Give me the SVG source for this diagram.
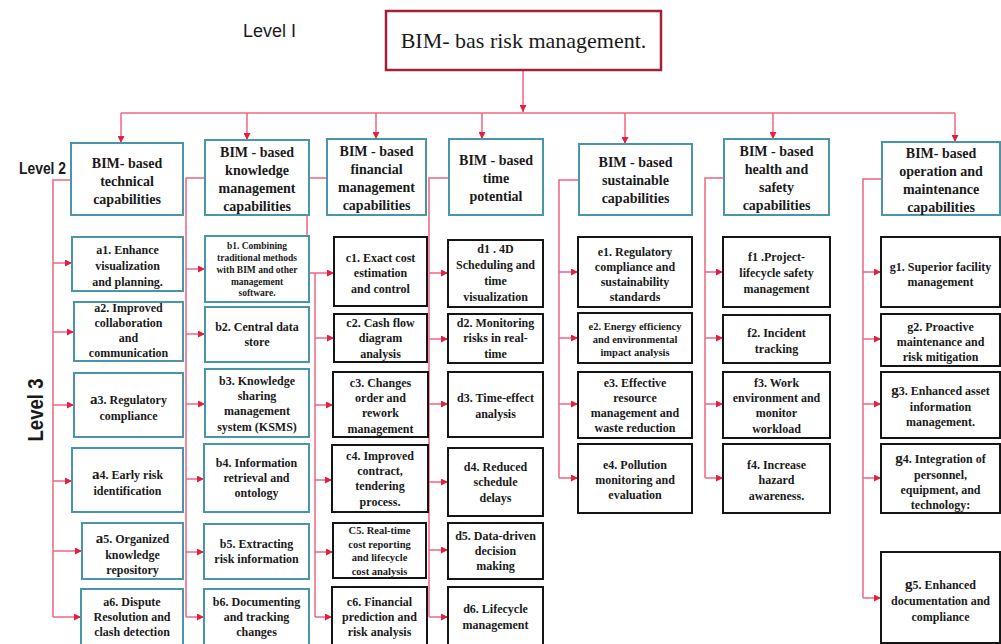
<svg xmlns="http://www.w3.org/2000/svg" width="1001" height="644" viewBox="0 0 1001 644">
<style>
.top{fill:#fff;stroke:#a3203b;stroke-width:2.5}
.l2{fill:#fff;stroke:#4797a9;stroke-width:2}
.tb{fill:#fff;stroke:#4797a9;stroke-width:2}
.bb{fill:#fff;stroke:#151515;stroke-width:2}
text{font-family:"Liberation Serif","DejaVu Serif","Times New Roman",serif;fill:#1a1a1a;text-anchor:middle}
.t0{font-size:22px}
.t2{font-size:14px;font-weight:bold}
.t3{font-size:12px;font-weight:bold}
.ts{font-size:10.5px;font-weight:bold}
.tx{font-size:9.5px;font-weight:bold}
.lv{font-family:"Liberation Sans",Arial,sans-serif;text-anchor:start}
.big{font-size:15px}
.c{fill:none;stroke:#f06580;stroke-width:1.5}
.a{fill:none;stroke:#f06580;stroke-width:1.5;marker-end:url(#ar)}
</style>
<defs>
<marker id="ar" markerUnits="userSpaceOnUse" markerWidth="7" markerHeight="7" refX="7" refY="3.5" orient="auto">
<path d="M0,0 L7,3.5 L0,7 z" fill="#e2213f"/>
</marker>
</defs>
<rect width="1001" height="644" fill="#fff"/>

<g id="labels">
<text class="lv" x="243" y="37" font-size="18">Level I</text>
<text class="lv" x="19" y="174" font-size="16" font-weight="bold" textLength="47" lengthAdjust="spacingAndGlyphs">Level 2</text>
<text class="lv" transform="translate(43,410) rotate(-90)" x="0" y="0" font-size="22" font-weight="bold" textLength="63" lengthAdjust="spacingAndGlyphs" style="text-anchor:middle">Level 3</text>
</g>

<g id="connectors">
<path class="a" d="M523,70 V112"/>
<path class="c" d="M121,113 H955"/>
<path class="a" d="M121,113 V143"/>
<path class="a" d="M247,113 V140"/>
<path class="a" d="M376,113 V139"/>
<path class="a" d="M482,113 V139"/>
<path class="a" d="M625,113 V144"/>
<path class="a" d="M773,113 V139"/>
<path class="a" d="M955,113 V142"/>

<path class="c" d="M71,180 H53 V617"/>
<path class="a" d="M53,263 H72"/>
<path class="a" d="M53,332 H74"/>
<path class="a" d="M53,405 H74"/>
<path class="a" d="M53,481 H72"/>
<path class="a" d="M53,551 H82"/>
<path class="a" d="M53,617 H81"/>

<path class="c" d="M205,178 H186 V617"/>
<path class="a" d="M186,269 H205"/>
<path class="a" d="M186,334 H205"/>
<path class="a" d="M186,404 H205"/>
<path class="a" d="M186,479 H204"/>
<path class="a" d="M186,552 H204"/>
<path class="a" d="M186,617 H204"/>

<path class="c" d="M327,178 H307 V273"/>
<path class="a" d="M307,273 H334"/>
<path class="c" d="M315,273 V617"/>
<path class="a" d="M315,338 H334"/>
<path class="a" d="M315,405 H333"/>
<path class="a" d="M315,480 H332"/>
<path class="a" d="M315,552 H333"/>
<path class="a" d="M315,617 H332"/>

<path class="c" d="M449,178 H429 V617"/>
<path class="a" d="M429,273 H448"/>
<path class="a" d="M429,339 H448"/>
<path class="a" d="M429,404 H448"/>
<path class="a" d="M429,482 H448"/>
<path class="a" d="M429,550 H448"/>
<path class="a" d="M429,617 H448"/>

<path class="c" d="M579,180 H559 V478"/>
<path class="a" d="M559,272 H578"/>
<path class="a" d="M559,338 H578"/>
<path class="a" d="M559,404 H578"/>
<path class="a" d="M559,478 H578"/>

<path class="c" d="M724,178 H705 V478"/>
<path class="a" d="M705,272 H723"/>
<path class="a" d="M705,338 H723"/>
<path class="a" d="M705,404 H723"/>
<path class="a" d="M705,478 H723"/>

<path class="c" d="M882,179 H863 V598"/>
<path class="a" d="M863,272 H881"/>
<path class="a" d="M863,339 H881"/>
<path class="a" d="M863,404 H881"/>
<path class="a" d="M863,478 H881"/>
<path class="a" d="M863,598 H881"/>
</g>

<g id="root"><rect class="top" x="386" y="11" width="275" height="59"/><text class="t0" x="523.5" y="48">BIM- bas risk management.</text></g>

<g id="L2-technical"><rect class="l2" x="71" y="143" width="112" height="72"/>
<text class="t2" x="127" y="167.5">BIM- based</text><text class="t2" x="127" y="185.5">technical</text><text class="t2" x="127" y="203.5">capabilities</text></g>
<g id="L2-knowledge"><rect class="l2" x="205" y="140" width="104" height="75"/>
<text class="t2" x="257" y="156.5">BIM - based</text><text class="t2" x="257" y="174.5">knowledge</text><text class="t2" x="257" y="192.5">management</text><text class="t2" x="257" y="210.5">capabilities</text></g>
<g id="L2-financial"><rect class="l2" x="327" y="139" width="99" height="76"/>
<text class="t2" x="376.5" y="155.5">BIM - based</text><text class="t2" x="376.5" y="173.5">financial</text><text class="t2" x="376.5" y="191.5">management</text><text class="t2" x="376.5" y="209.5">capabilities</text></g>
<g id="L2-time"><rect class="l2" x="449" y="139" width="94" height="76"/>
<text class="t2" x="496" y="164.5">BIM - based</text><text class="t2" x="496" y="182.5">time</text><text class="t2" x="496" y="200.5">potential</text></g>
<g id="L2-sustainable"><rect class="l2" x="579" y="144" width="113" height="71"/>
<text class="t2" x="635.5" y="166.5">BIM - based</text><text class="t2" x="635.5" y="184.5">sustainable</text><text class="t2" x="635.5" y="202.5">capabilities</text></g>
<g id="L2-health"><rect class="l2" x="724" y="139" width="105" height="76"/>
<text class="t2" x="776.5" y="155.5">BIM - based</text><text class="t2" x="776.5" y="173.5">health and</text><text class="t2" x="776.5" y="191.5">safety</text><text class="t2" x="776.5" y="209.5">capabilities</text></g>
<g id="L2-operation"><rect class="l2" x="882" y="142" width="118" height="73"/>
<text class="t2" x="941" y="157.5">BIM- based</text><text class="t2" x="941" y="175.5">operation and</text><text class="t2" x="941" y="193.5">maintenance</text><text class="t2" x="941" y="211.5">capabilities</text></g>

<g id="a1"><rect class="tb" x="72" y="237" width="111" height="54"/>
<text class="t3" x="127.5" y="254">a1. Enhance</text><text class="t3" x="127.5" y="270">visualization</text><text class="t3" x="127.5" y="286">and planning.</text></g>
<g id="a2"><rect class="tb" x="74" y="302" width="109" height="59"/>
<text class="t3" x="128.5" y="312">a2. Improved</text><text class="t3" x="128.5" y="327">collaboration</text><text class="t3" x="128.5" y="342">and</text><text class="t3" x="128.5" y="357">communication</text></g>
<g id="a3"><rect class="tb" x="74" y="373" width="109" height="64"/>
<text class="t3" x="128.5" y="404"><tspan class="big">a</tspan>3. Regulatory</text><text class="t3" x="128.5" y="420">compliance</text></g>
<g id="a4"><rect class="tb" x="72" y="448" width="111" height="64"/>
<text class="t3" x="127.5" y="479"><tspan class="big">a</tspan>4. Early risk</text><text class="t3" x="127.5" y="495">identification</text></g>
<g id="a5"><rect class="tb" x="82" y="523" width="101" height="56"/>
<text class="t3" x="132.5" y="543"><tspan class="big">a</tspan>5. Organized</text><text class="t3" x="132.5" y="559">knowledge</text><text class="t3" x="132.5" y="574">repository</text></g>
<g id="a6"><rect class="tb" x="81" y="589" width="102" height="57"/>
<text class="t3" x="132" y="606">a6. Dispute</text><text class="t3" x="132" y="621">Resolution and</text><text class="t3" x="132" y="636">clash detection</text></g>

<g id="b1"><rect class="tb" x="205" y="236" width="104" height="66"/>
<text class="tx" x="257" y="248.5">b1. Combining</text><text class="tx" x="257" y="260.5">traditional methods</text><text class="tx" x="257" y="272.5">with  BIM and other</text><text class="tx" x="257" y="284.5">management</text><text class="tx" x="257" y="295.5">software.</text></g>
<g id="b2"><rect class="tb" x="205" y="307" width="104" height="55"/>
<text class="t3" x="257" y="331">b2. Central  data</text><text class="t3" x="257" y="346">store</text></g>
<g id="b3"><rect class="tb" x="205" y="369" width="104" height="68"/>
<text class="t3" x="257" y="385">b3. Knowledge</text><text class="t3" x="257" y="400">sharing</text><text class="t3" x="257" y="415">management</text><text class="t3" x="257" y="431">system (KSMS)</text></g>
<g id="b4"><rect class="tb" x="204" y="444" width="105" height="68"/>
<text class="t3" x="256.5" y="467">b4. Information</text><text class="t3" x="256.5" y="482">retrieval and</text><text class="t3" x="256.5" y="497">ontology</text></g>
<g id="b5"><rect class="tb" x="204" y="524" width="105" height="55"/>
<text class="t3" x="256.5" y="548">b5. Extracting</text><text class="t3" x="256.5" y="563">risk information</text></g>
<g id="b6"><rect class="tb" x="204" y="589" width="105" height="57"/>
<text class="t3" x="256.5" y="606">b6. Documenting</text><text class="t3" x="256.5" y="621">and tracking</text><text class="t3" x="256.5" y="636">changes</text></g>

<g id="c1"><rect class="bb" x="334" y="237" width="93" height="69"/>
<text class="t3" x="380.5" y="262">c1. Exact cost</text><text class="t3" x="380.5" y="277">estimation</text><text class="t3" x="380.5" y="293">and control</text></g>
<g id="c2"><rect class="bb" x="334" y="314" width="93" height="48"/>
<text class="t3" x="380.5" y="327">c2. Cash flow</text><text class="t3" x="380.5" y="342">diagram</text><text class="t3" x="380.5" y="358">analysis</text></g>
<g id="c3"><rect class="bb" x="333" y="372" width="95" height="65"/>
<text class="t3" x="380.5" y="387">c3. Changes</text><text class="t3" x="380.5" y="402">order and</text><text class="t3" x="380.5" y="417">rework</text><text class="t3" x="380.5" y="433">management</text></g>
<g id="c4"><rect class="bb" x="332" y="445" width="96" height="67"/>
<text class="t3" x="380" y="460">c4. Improved</text><text class="t3" x="380" y="475">contract,</text><text class="t3" x="380" y="490">tendering</text><text class="t3" x="380" y="506">process.</text></g>
<g id="c5"><rect class="bb" x="333" y="523" width="93" height="55"/>
<text class="ts" x="379.5" y="533.5">C5. Real-time</text><text class="ts" x="379.5" y="547.5">cost reporting</text><text class="ts" x="379.5" y="560.5">and lifecycle</text><text class="ts" x="379.5" y="574.5">cost analysis</text></g>
<g id="c6"><rect class="bb" x="332" y="587" width="95" height="59"/>
<text class="t3" x="379.5" y="606">c6. Financial</text><text class="t3" x="379.5" y="621">prediction and</text><text class="t3" x="379.5" y="636">risk analysis</text></g>

<g id="d1"><rect class="bb" x="448" y="240" width="95" height="67"/>
<text class="t3" x="495.5" y="253">d1 . 4D</text><text class="t3" x="495.5" y="269">Scheduling and</text><text class="t3" x="495.5" y="285">time</text><text class="t3" x="495.5" y="301">visualization</text></g>
<g id="d2"><rect class="bb" x="448" y="314" width="95" height="49"/>
<text class="t3" x="495.5" y="327">d2. Monitoring</text><text class="t3" x="495.5" y="342">risks in real-</text><text class="t3" x="495.5" y="358">time</text></g>
<g id="d3"><rect class="bb" x="448" y="372" width="95" height="65"/>
<text class="t3" x="495.5" y="402">d3. Time-effect</text><text class="t3" x="495.5" y="418">analysis</text></g>
<g id="d4"><rect class="bb" x="448" y="448" width="95" height="68"/>
<text class="t3" x="495.5" y="471">d4. Reduced</text><text class="t3" x="495.5" y="486">schedule</text><text class="t3" x="495.5" y="502">delays</text></g>
<g id="d5"><rect class="bb" x="448" y="523" width="95" height="56"/>
<text class="t3" x="495.5" y="540">d5. Data-driven</text><text class="t3" x="495.5" y="555">decision</text><text class="t3" x="495.5" y="570">making</text></g>
<g id="d6"><rect class="bb" x="448" y="587" width="95" height="59"/>
<text class="t3" x="495.5" y="613">d6. Lifecycle</text><text class="t3" x="495.5" y="629">management</text></g>

<g id="e1"><rect class="bb" x="578" y="237" width="114" height="70"/>
<text class="t3" x="635" y="256">e1. Regulatory</text><text class="t3" x="635" y="271">compliance and</text><text class="t3" x="635" y="286">sustainability</text><text class="t3" x="635" y="301">standards</text></g>
<g id="e2"><rect class="bb" x="578" y="313" width="114" height="50"/>
<text class="ts" x="635" y="329.5">e2. Energy efficiency</text><text class="ts" x="635" y="342.5">and environmental</text><text class="ts" x="635" y="355.5">impact analysis</text></g>
<g id="e3"><rect class="bb" x="578" y="372" width="114" height="66"/>
<text class="t3" x="635" y="387">e3. Effective</text><text class="t3" x="635" y="402">resource</text><text class="t3" x="635" y="417">management and</text><text class="t3" x="635" y="432">waste reduction</text></g>
<g id="e4"><rect class="bb" x="578" y="444" width="114" height="69"/>
<text class="t3" x="635" y="469">e4. Pollution</text><text class="t3" x="635" y="484">monitoring and</text><text class="t3" x="635" y="499">evaluation</text></g>

<g id="f1"><rect class="bb" x="723" y="237" width="107" height="70"/>
<text class="t3" x="776.5" y="261">f1 .Project-</text><text class="t3" x="776.5" y="277">lifecycle  safety</text><text class="t3" x="776.5" y="293">management</text></g>
<g id="f2"><rect class="bb" x="723" y="315" width="107" height="48"/>
<text class="t3" x="776.5" y="337">f2. Incident</text><text class="t3" x="776.5" y="353">tracking</text></g>
<g id="f3"><rect class="bb" x="723" y="372" width="107" height="66"/>
<text class="t3" x="776.5" y="387">f3. Work</text><text class="t3" x="776.5" y="402">environment and</text><text class="t3" x="776.5" y="417">monitor</text><text class="t3" x="776.5" y="433">workload</text></g>
<g id="f4"><rect class="bb" x="723" y="444" width="107" height="69"/>
<text class="t3" x="776.5" y="469">f4. Increase</text><text class="t3" x="776.5" y="484">hazard</text><text class="t3" x="776.5" y="500">awareness.</text></g>

<g id="g1"><rect class="bb" x="881" y="237" width="119" height="70"/>
<text class="t3" x="940.5" y="271">g1. Superior facility</text><text class="t3" x="940.5" y="286">management</text></g>
<g id="g2"><rect class="bb" x="881" y="314" width="119" height="52"/>
<text class="t3" x="940.5" y="331">g2. Proactive</text><text class="t3" x="940.5" y="346">maintenance and</text><text class="t3" x="940.5" y="361">risk mitigation</text></g>
<g id="g3"><rect class="bb" x="881" y="372" width="119" height="66"/>
<text class="t3" x="940.5" y="395"><tspan class="big">g</tspan>3. Enhanced asset</text><text class="t3" x="940.5" y="411">information</text><text class="t3" x="940.5" y="426">management.</text></g>
<g id="g4"><rect class="bb" x="881" y="444" width="119" height="69"/>
<text class="t3" x="940.5" y="463"><tspan class="big">g</tspan>4. Integration of</text><text class="t3" x="940.5" y="479">personnel,</text><text class="t3" x="940.5" y="494">equipment, and</text><text class="t3" x="940.5" y="509">technology:</text></g>
<g id="g5"><rect class="bb" x="881" y="552" width="119" height="91"/>
<text class="t3" x="940.5" y="589"><tspan class="big">g</tspan>5. Enhanced</text><text class="t3" x="940.5" y="605">documentation and</text><text class="t3" x="940.5" y="621">compliance</text></g>
</svg>
